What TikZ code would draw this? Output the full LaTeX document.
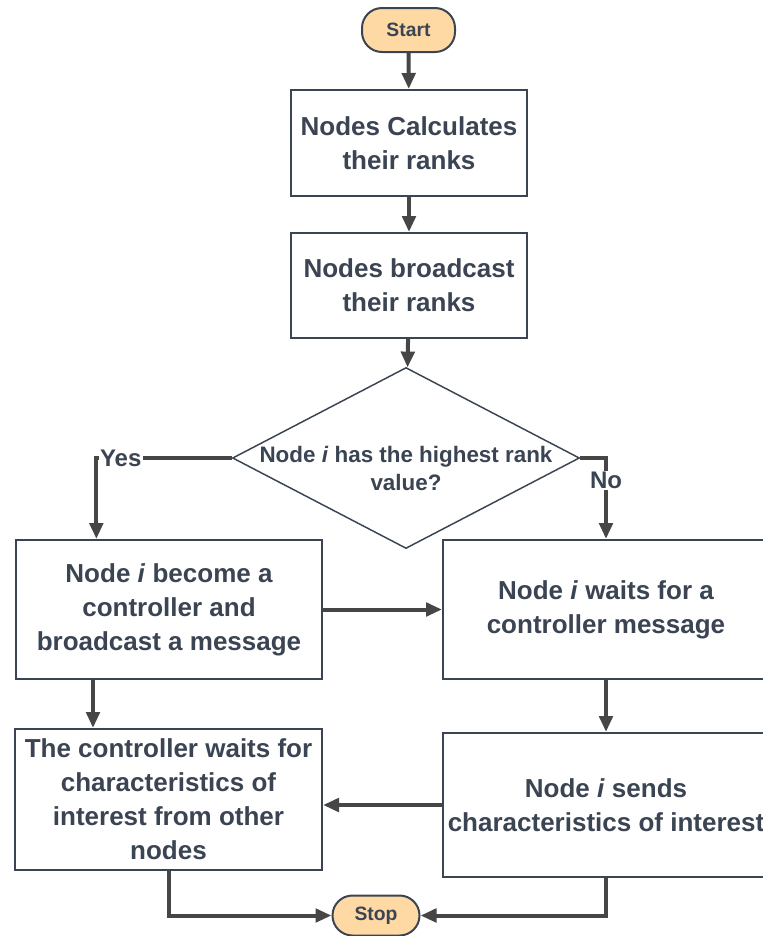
\documentclass[tikz,border=0pt]{standalone}
\usepackage{fontspec}
\setmainfont{Liberation Sans}
\usetikzlibrary{arrows.meta,shapes.geometric,calc}
\definecolor{ink}{RGB}{59,68,82}
\definecolor{wire}{RGB}{70,70,70}
\definecolor{peach}{RGB}{254,217,164}

\begin{document}
\begin{tikzpicture}[x=0.75pt,y=-0.75pt,
    box/.style={rectangle, draw=ink, line width=1.5pt, fill=white, align=center, text=ink,
        font=\fontsize{19.5}{25.5}\selectfont\bfseries},
    term/.style={rectangle, rounded corners=15pt, draw=ink, line width=1.5pt, fill=peach, text=ink,
        font=\fontsize{14.5}{17}\selectfont\bfseries},
    decision/.style={diamond, draw=ink, line width=1.1pt, fill=white, inner sep=0pt,
        minimum width=260.25pt, minimum height=135.75pt},
    dtext/.style={align=center, text=ink, font=\fontsize{16.8}{21}\selectfont\bfseries},
    yesno/.style={fill=white, inner sep=1pt, text=ink, font=\fontsize{18}{21}\selectfont\bfseries},
    flow/.style={draw=wire, line width=3pt, -{Triangle[length=12pt,width=10pt]}}]

    \useasboundingbox (0,0) rectangle (763,936);
    \clip (0,0) rectangle (763,936);

    \node[term, minimum width=69.75pt, minimum height=33pt] (start) at (408.5,30) {Start};
    \node[box, minimum width=177pt, minimum height=79.5pt] (calc) at (409,143) {Nodes Calculates\\their ranks};
    \node[box, minimum width=177pt, minimum height=78.75pt] (bcast) at (409,285.5) {Nodes broadcast\\their ranks};
    \node[decision] (dec) at (406,458) {};
    \node[dtext] at ([yshift=-8pt]dec.center) {Node \textit{i} has the highest rank\\value?};
    \node[box, minimum width=229.5pt, minimum height=104.25pt] (ctrl) at (169,609.5) {Node \textit{i} become a\\controller and\\broadcast a message};
    \node[box, minimum width=244.5pt, minimum height=104.25pt] (wait) at (606,609.5) {Node \textit{i} waits for a\\controller message};
    \node[box, minimum width=230.25pt, minimum height=105.75pt] (gather) at (168.5,799.5) {The controller waits for\\characteristics of\\interest from other\\nodes};
    \node[box, minimum width=244.5pt, minimum height=108pt] (send) at (606,805) {Node \textit{i} sends\\characteristics of interest};
    \node[term, minimum width=65.25pt, minimum height=30pt] (stop) at (376,915.5) {Stop};

    \draw[flow] (start) -- (calc);
    \draw[flow] (calc) -- (bcast);
    \draw[flow] (bcast) -- (dec);
    \draw[flow] (dec.west) -| node[pos=0.41, yesno] {Yes} ([xshift=61pt]ctrl.north west);
    \draw[flow] (dec.east) -| node[pos=0.64, yesno] {No} (wait.north);
    \draw[flow] (ctrl) -- (wait);
    \draw[flow] ([xshift=58.5pt]ctrl.south west) -- ([xshift=58.5pt]ctrl.south west |- gather.north);
    \draw[flow] (wait) -- (send);
    \draw[flow] (send.west) -- (send.west -| gather.east);
    \draw[flow] (gather.south) |- (stop.west);
    \draw[flow] (send.south) |- (stop.east);

\end{tikzpicture}
\end{document}
